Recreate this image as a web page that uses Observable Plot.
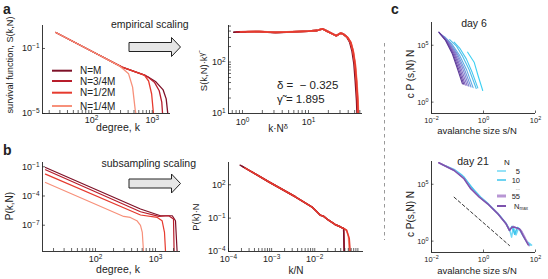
<!DOCTYPE html>
<html><head><meta charset="utf-8">
<script src="https://cdn.jsdelivr.net/npm/d3@7"></script>
<script src="https://cdn.jsdelivr.net/npm/@observablehq/plot@0.6"></script>
<style>
body{margin:0;background:#fff;}
#fig{position:relative;width:548px;height:279px;overflow:hidden;font-family:"Liberation Sans",Arial,Helvetica,sans-serif;}
#fig svg{position:absolute;overflow:visible;}
</style></head><body><div id="fig"></div>
<script>
// ================= DATA (stored as [log10 x, log10 y]) =================
const seriesNames  = ["N=M", "N=3/4M", "N=1/2M", "N=1/4M"];
const seriesColors = ["#7d1128", "#b81d2b", "#e63a2e", "#f7907a"];

// (a) left: survival function S(k,N) vs degree k
const aLeftNM  = [[1.41,-0.015],[2.066,-1.29],[2.503,-2.15],[2.885,-2.66],[2.94,-2.77],[3.06,-3.05],[3.18,-3.55],[3.23,-4.1],[3.256,-5]];
const aLeftN34 = [[1.41,-0.015],[2.066,-1.29],[2.503,-2.15],[2.885,-2.66],[2.94,-2.78],[3.04,-3.1],[3.115,-3.6],[3.157,-4.3],[3.17,-5]];
const aLeftN12 = [[1.41,-0.015],[2.066,-1.29],[2.503,-2.15],[2.87,-2.64],[2.94,-3.0],[2.99,-3.8],[3.02,-5]];
const aLeftN14 = [[1.41,-0.015],[2.066,-1.29],[2.45,-2.05],[2.53,-2.3],[2.61,-2.56],[2.676,-3.38],[2.72,-4.8],[2.73,-5]];

// (a) right: S(k,N)·k^γ vs k·N^δ
const aRightNM  = [[-0.13,2.58],[0.25,2.593],[0.5,2.574],[0.75,2.587],[1.0,2.60],[1.13,2.613],[1.21,2.646],[1.28,2.60],[1.36,2.549],[1.42,2.51],[1.485,2.56],[1.52,2.549],[1.58,2.49],[1.625,2.39],[1.66,2.22],[1.69,1.97],[1.71,1.64],[1.73,1.25],[1.737,1.0]];
const aRightN34 = [[-0.09,2.585],[0.25,2.59],[0.5,2.576],[0.75,2.588],[1.0,2.60],[1.13,2.613],[1.21,2.646],[1.28,2.60],[1.36,2.549],[1.42,2.51],[1.485,2.56],[1.52,2.549],[1.586,2.483],[1.636,2.386],[1.671,2.224],[1.702,1.966],[1.723,1.641],[1.742,1.253],[1.748,1.0]];
const aRightN12 = [[-0.03,2.585],[0.25,2.592],[0.5,2.575],[0.75,2.587],[1.0,2.60],[1.13,2.613],[1.21,2.646],[1.28,2.60],[1.36,2.549],[1.42,2.51],[1.485,2.56],[1.52,2.549],[1.59,2.48],[1.64,2.38],[1.675,2.21],[1.705,1.96],[1.726,1.64],[1.745,1.25],[1.752,1.0]];
const aRightN14 = [[0.07,2.59],[0.25,2.595],[0.5,2.578],[0.75,2.59],[1.0,2.602],[1.13,2.615],[1.21,2.646],[1.28,2.60],[1.36,2.549],[1.42,2.51],[1.485,2.56],[1.52,2.549],[1.60,2.47],[1.645,2.37],[1.68,2.2],[1.71,1.95],[1.732,1.62],[1.75,1.25],[1.757,1.0]];

// (b) left: P(k,N) vs degree k
const bLeftNM  = [[1.167,-1.07],[2.75,-5.34],[3.083,-6.03],[3.28,-6.03],[3.333,-6.54],[3.36,-9.69]];
const bLeftN34 = [[1.167,-1.31],[2.75,-5.62],[3.055,-6.1],[3.22,-6.03],[3.30,-6.37],[3.31,-9.69]];
const bLeftN12 = [[1.167,-1.75],[2.75,-5.95],[3.03,-6.2],[3.11,-6.54],[3.15,-7.74],[3.167,-9.69]];
const bLeftN14 = [[1.167,-2.61],[2.47,-6.1],[2.58,-6.2],[2.69,-6.54],[2.75,-7.02],[2.78,-7.74],[2.80,-9.69]];

// (b) right: P(k)·N vs k/N
const bRightNM  = [[-3.73,3.76],[-3.07,2.27],[-2.45,0.92],[-2.07,0.02],[-1.95,-0.43],[-1.87,-0.74],[-1.80,-0.82],[-1.68,-1.19],[-1.53,-1.57],[-1.41,-1.78],[-1.33,-1.93],[-1.317,-4]];
const bRightN34 = [[-3.68,3.65],[-3.07,2.27],[-2.45,0.92],[-2.07,0.02],[-1.95,-0.43],[-1.87,-0.74],[-1.80,-0.82],[-1.68,-1.19],[-1.53,-1.57],[-1.41,-1.78],[-1.33,-1.93],[-1.317,-4]];
const bRightN12 = [[-3.62,3.52],[-3.07,2.27],[-2.45,0.92],[-2.07,0.02],[-1.95,-0.43],[-1.87,-0.74],[-1.80,-0.82],[-1.68,-1.19],[-1.53,-1.57],[-1.41,-1.78],[-1.33,-1.93],[-1.26,-2.09],[-1.20,-2.83],[-1.178,-4]];
const bRightN14 = [[-3.45,3.15],[-3.07,2.27],[-2.45,0.92],[-2.07,0.02],[-1.95,-0.43],[-1.87,-0.74],[-1.80,-0.82],[-1.68,-1.19],[-1.53,-1.57],[-1.41,-1.78],[-1.33,-1.93],[-1.27,-2.05],[-1.22,-2.6],[-1.20,-4]];

// (c) day 6: c P(s,N) N vs s/N, from Nmax (purple) to small N (cyan)
const cTop0 = [[-1.72,6.15],[-1.46,5.42],[-1.20,4.25],[-1.00,2.93],[-0.81,1.61]];
const cTop1 = [[-1.71,6.13],[-1.44,5.40],[-1.17,4.25],[-0.96,2.95],[-0.76,1.57]];
const cTop2 = [[-1.70,6.10],[-1.42,5.38],[-1.13,4.25],[-0.91,2.95],[-0.70,1.50]];
const cTop3 = [[-1.68,6.05],[-1.39,5.35],[-1.09,4.25],[-0.86,2.95],[-0.63,1.45]];
const cTop4 = [[-1.64,5.98],[-1.35,5.30],[-1.04,4.22],[-0.80,2.95],[-0.56,1.40]];
const cTop5 = [[-1.58,5.88],[-1.29,5.22],[-0.99,4.18],[-0.74,2.93],[-0.48,1.33]];
const cTop6 = [[-1.50,5.76],[-1.22,5.12],[-0.92,4.12],[-0.66,2.90],[-0.40,1.27]];
const cTop7 = [[-1.30,5.50],[-1.05,4.95],[-0.80,4.02],[-0.55,2.85],[-0.28,1.20]];
const cTop8 = [[-1.13,5.27],[-0.90,4.70],[-0.66,3.80],[-0.45,2.70],[-0.22,1.25]];
const cTop9 = [[-0.61,4.39],[-0.36,3.51],[-0.21,2.34],[-0.03,1.02]];
const cTopColors = ["#5e3c99","#6d4aa8","#7a5cb8","#8270c6","#7f86d2","#7499dc","#62ace4","#52bde9","#45c8ee","#3dd0f2"];

// (c) day 21
const cBotN5   = [[-1.45,6.62],[-1.13,6.30],[-0.85,5.85],[-0.6,5.15],[-0.35,4.45],[-0.1,3.85],[0.2,3.25],[0.55,2.45],[0.87,1.55],[1.0,1.05],[1.08,0.35],[1.15,1.25],[1.25,0.55],[1.35,1.15],[1.5,0.55],[1.65,0.0],[1.85,-0.35]];
const cBotN10  = [[-1.6,6.75],[-1.13,6.26],[-0.75,5.62],[-0.49,4.80],[-0.16,3.95],[0.16,3.30],[0.55,2.42],[0.87,1.52],[1.0,0.95],[1.1,1.3],[1.2,0.6],[1.3,1.2],[1.45,0.9],[1.6,0.2],[1.78,-0.38]];
const cBotN55  = [[-1.72,6.89],[-1.13,6.23],[-0.75,5.52],[-0.49,4.65],[-0.16,3.88],[0.16,3.28],[0.55,2.42],[0.87,1.50],[1.0,1.0],[1.15,1.3],[1.3,1.1],[1.45,0.95],[1.6,0.3],[1.75,-0.4]];
const cBotNmax = [[-1.72,6.89],[-1.13,6.21],[-0.75,5.48],[-0.49,4.60],[-0.16,3.86],[0.16,3.28],[0.55,2.40],[0.87,1.52],[1.0,0.93],[1.1,1.25],[1.2,1.22],[1.39,1.08],[1.52,0.49],[1.72,-0.32]];
const cBotDash = [[-1.13,3.86],[1.0,-0.39]];
const cBotNames  = ["5", "10", "55", "Nmax"];
const cBotColors = ["#72d8f5", "#3cc4ec", "#b896d4", "#7d52ad"];

// ================= HELPERS =================
const pts = arr => arr.map(([a, b]) => ({x: 10 ** a, y: 10 ** b}));
const fmt = v => "10^" + Math.round(Math.log10(v));
const minors = (decades, mults) => decades.flatMap(d => mults.map(m => m * d));
const fig = document.getElementById("fig");
const INK = "#222";

function supTicks(svg, supScale) {
  svg.querySelectorAll("text").forEach(t => {
    const s = t.textContent;
    if (s.startsWith("10^")) {
      const e = s.slice(3).replace("-", "\u2212");
      t.textContent = "10";
      const ts = document.createElementNS("http://www.w3.org/2000/svg", "tspan");
      ts.setAttribute("dy", "-0.45em");
      ts.setAttribute("font-size", supScale + "em");
      ts.textContent = e;
      t.appendChild(ts);
    }
  });
}

function panel(c) {
  const ml = c.ml ?? 40, mr = c.mr ?? 10, mt = c.mt ?? 8, mb = c.mb ?? 24, tl = c.tickLen ?? 3;
  const marks = [];
  for (const l of c.lines) {
    marks.push(Plot.line(pts(l.data), {x: "x", y: "y", stroke: l.color, strokeWidth: l.w ?? 1.2,
      strokeDasharray: l.dash, clip: true}));
  }
  marks.push(Plot.ruleX([c.xDomain[0]], {stroke: INK, strokeWidth: 0.9}));
  marks.push(Plot.ruleY([c.yDomain[0]], {stroke: INK, strokeWidth: 0.9}));
  marks.push(Plot.tickX([...c.xMajor, ...(c.xMinor ?? [])], {x: d => d, insetTop: c.fh - tl, stroke: INK, strokeWidth: 0.7}));
  marks.push(Plot.tickY([...c.yMajor, ...(c.yMinor ?? [])], {y: d => d, insetRight: c.fw - tl, stroke: INK, strokeWidth: 0.7}));
  marks.push(Plot.axisX({ticks: c.xMajor, tickFormat: fmt, tickSize: 0, tickPadding: c.xPad ?? 3, fontSize: c.fs ?? 9, label: null}));
  marks.push(Plot.axisY({ticks: c.yMajor, tickFormat: fmt, tickSize: 0, tickPadding: c.yPad ?? 3, fontSize: c.fs ?? 9, label: null}));
  const svg = Plot.plot({
    width: ml + c.fw + mr, height: mt + c.fh + mb,
    marginLeft: ml, marginRight: mr, marginTop: mt, marginBottom: mb,
    x: {type: "log", domain: c.xDomain},
    y: {type: "log", domain: c.yDomain},
    style: {background: "transparent", color: INK, fontFamily: '"Liberation Sans", Arial, sans-serif', overflow: "visible"},
    marks
  });
  supTicks(svg, c.sup ?? 0.72);
  svg.style.left = (c.fx - ml) + "px";
  svg.style.top = (c.fy - mt) + "px";
  fig.appendChild(svg);
}

const dec = [10, 100, 1000];
// ---- (a) left
panel({fx: 42, fy: 25, fw: 128, fh: 88, xDomain: [15.5, 2000], yDomain: [1e-5, 2.6],
  xMajor: [100, 1000], yMajor: [1e-1, 1e-5], xMinor: minors(dec, [2,3,4,5,6,7,8,9]).filter(v => v > 15.5 && v < 2000),
  xPad: 3, fs: 9,
  lines: [aLeftNM, aLeftN34, aLeftN12, aLeftN14].map((d, i) => ({data: d, color: seriesColors[i], w: 1.3}))});
// ---- (a) right
panel({fx: 228, fy: 25, fw: 134, fh: 88, xDomain: [0.614, 65.8], yDomain: [10, 513],
  xMajor: [1, 10], yMajor: [10, 100], xMinor: minors([0.1, 1, 10], [2,3,4,5,6,7,8,9]).filter(v => v > 0.614 && v < 65.8),
  yMinor: minors([10, 100], [2,3,4,5,6,7,8,9]).filter(v => v < 513), xPad: 5, fs: 9,
  lines: [aRightNM, aRightN34, aRightN14, aRightN12].map((d, i) => ({data: d, color: seriesColors[[0,1,3,2][i]], w: 1.8}))});
// ---- (b) left
panel({fx: 42, fy: 162, fw: 138, fh: 89, xDomain: [13.1, 2610], yDomain: [2.0e-10, 0.275],
  xMajor: [100, 1000], yMajor: [1e-1, 1e-4, 1e-7], xMinor: minors(dec, [2,3,4,5,6,7,8,9]).filter(v => v > 13.1 && v < 2610),
  xPad: 4.5, fs: 9,
  lines: [bLeftNM, bLeftN34, bLeftN12, bLeftN14].map((d, i) => ({data: d, color: seriesColors[i], w: 1.2}))});
// ---- (b) right
panel({fx: 228, fy: 162, fw: 135, fh: 89, xDomain: [1e-4, 0.135], yDomain: [1e-4, 1e4],
  xMajor: [1e-4, 1e-3, 1e-2], yMajor: [1e2, 1e-1, 1e-4],
  xMinor: minors([1e-4, 1e-3, 1e-2, 1e-1], [1,2,3,4,5,6,7,8,9]).filter(v => v > 1.01e-4 && v < 0.135 && ![1e-3,1e-2].some(m => Math.abs(v - m) < m * 1e-6)),
  xPad: 4.5, fs: 9,
  lines: [bRightN14, bRightN34, bRightNM, bRightN12].map((d, i) => ({data: d, color: seriesColors[[3,1,0,2][i]], w: 1.5}))});
// ---- (c) day 6
const cTopAll = [cTop0, cTop1, cTop2, cTop3, cTop4, cTop5, cTop6, cTop7, cTop8, cTop9];
panel({fx: 431, fy: 22, fw: 104, fh: 91, ml: 22, mr: 10, xDomain: [1e-2, 1e2], yDomain: [0.1, 1e7],
  xMajor: [1e-2, 1, 1e2], yMajor: [1, 1e5], xPad: 4, yPad: 3, fs: 7.5, tickLen: 2.5,
  lines: cTopAll.map((d, i) => ({data: d, color: cTopColors[i], w: 1.1})).reverse()});
// ---- (c) day 21
panel({fx: 431, fy: 161, fw: 104, fh: 91, ml: 22, mr: 10, xDomain: [1e-2, 1e2], yDomain: [0.1, 1e7],
  xMajor: [1e-2, 1, 1e2], yMajor: [1, 1e5], xPad: 4, yPad: 3, fs: 7.5, tickLen: 2.5,
  lines: [
    {data: cBotDash, color: "#333", w: 1, dash: "3,2.5"},
    ...[cBotN5, cBotN10, cBotN55, cBotNmax].map((d, i) => ({data: d, color: cBotColors[i], w: 1.5}))
  ]});

// ================= ANNOTATIONS =================
const ov = d3.select(fig).append("svg").attr("width", 548).attr("height", 279)
  .style("left", "0px").style("top", "0px")
  .attr("font-family", '"Liberation Sans", Arial, sans-serif').attr("fill", INK);

function T(x, y, parts, o = {}) {
  const t = ov.append("text").attr("x", x).attr("y", y).attr("font-size", o.size ?? 10)
    .attr("text-anchor", o.anchor ?? "start").attr("font-weight", o.weight ?? "normal")
    .attr("fill", o.fill ?? INK).style("white-space", "pre");
  if (o.rotate) t.attr("transform", `rotate(-90 ${x} ${y})`);
  (Array.isArray(parts) ? parts : [parts]).forEach(p => {
    if (typeof p === "string") t.append("tspan").text(p);
    else t.append("tspan").attr("dy", p.dy).attr("font-size", p.size).text(p.t);
  });
  return t;
}

// panel letters
T(3, 14, "a", {size: 14, weight: "bold"});
T(3, 155, "b", {size: 14, weight: "bold"});
T(391, 14, "c", {size: 14, weight: "bold"});

// arrows
function arrow(cy) {
  const x0 = 129, xh = 171.5, xt = 180.5, hb = 4.5, hh = 9.5;
  ov.append("polygon").attr("points",
    [[x0, cy - hb], [xh, cy - hb], [xh, cy - hh], [xt, cy], [xh, cy + hh], [xh, cy + hb], [x0, cy + hb]].map(p => p.join(",")).join(" "))
    .attr("fill", "#e6e6e6").attr("stroke", INK).attr("stroke-width", 1);
}
arrow(47);
arrow(183.5);
T(111, 28, "empirical scaling", {size: 10.5});
T(101.5, 167, "subsampling scaling", {size: 10.5});

// separator
ov.append("line").attr("x1", 384.5).attr("x2", 384.5).attr("y1", 43).attr("y2", 240)
  .attr("stroke", "#999").attr("stroke-width", 1).attr("stroke-dasharray", "3.5,3.5");

// (a) left labels + legend
T(13, 65, "survival function, S(k,N)", {size: 9.2, anchor: "middle", rotate: true});
T(118, 131, "degree, k", {size: 10.5, anchor: "middle"});
const legY = [70.7, 81, 92.7, 106];
seriesNames.forEach((n, i) => {
  ov.append("line").attr("x1", 52).attr("x2", 72).attr("y1", legY[i]).attr("y2", legY[i])
    .attr("stroke", seriesColors[i]).attr("stroke-width", 2);
  T(80, legY[i] + 3.5, n, {size: 10});
});

// (a) right labels
T(207, 72, ["S(k,N)\u00b7k", {t: "\u03b3\u0303", dy: "-0.45em", size: "0.75em"}], {size: 9.5, anchor: "middle", rotate: true});
T(278, 132, ["k\u00b7N", {t: "\u03b4", dy: "-0.45em", size: "0.75em"}], {size: 10, anchor: "middle"});
T(277, 89, "\u03b4 =  \u2212 0.325", {size: 11.5});
T(277, 103, "\u03b3\u0303 = 1.895", {size: 11.5});

// (b) labels
T(13, 206, "P(k,N)", {size: 10, anchor: "middle", rotate: true});
T(118, 273, "degree, k", {size: 10.5, anchor: "middle"});
T(199, 217, "P(k)\u00b7N", {size: 9.5, anchor: "middle", rotate: true});
T(296, 274, "k/N", {size: 10, anchor: "middle"});

// (c) labels
T(414, 74, "c P (s,N) N", {size: 10, anchor: "middle", rotate: true});
T(414, 214, "c P(s,N) N", {size: 10, anchor: "middle", rotate: true});
T(474, 27, "day 6", {size: 10.5, anchor: "middle"});
T(473, 165, "day 21", {size: 10.5, anchor: "middle"});
T(477, 134, "avalanche size s/N", {size: 9.5, anchor: "middle"});
T(477, 274, "avalanche size s/N", {size: 9.5, anchor: "middle"});

// (c) legend
T(507, 165, "N", {size: 8, anchor: "middle"});
const cLegY = [171, 180, 196, 206];
const cLegW = [1.5, 1.5, 3, 2];
cBotNames.forEach((n, i) => {
  ov.append("line").attr("x1", 497).attr("x2", 506).attr("y1", cLegY[i]).attr("y2", cLegY[i])
    .attr("stroke", cBotColors[i]).attr("stroke-width", cLegW[i]);
  if (n === "Nmax") T(514, cLegY[i] + 2.7, ["N", {t: "max", dy: "0.3em", size: "0.6em"}], {size: 7.5});
  else T(520, cLegY[i] + 2.7, n, {size: 7.5, anchor: "end"});
});
T(520, 189.5, "...", {size: 5, anchor: "end", fill: "#666"});
</script></body></html>
